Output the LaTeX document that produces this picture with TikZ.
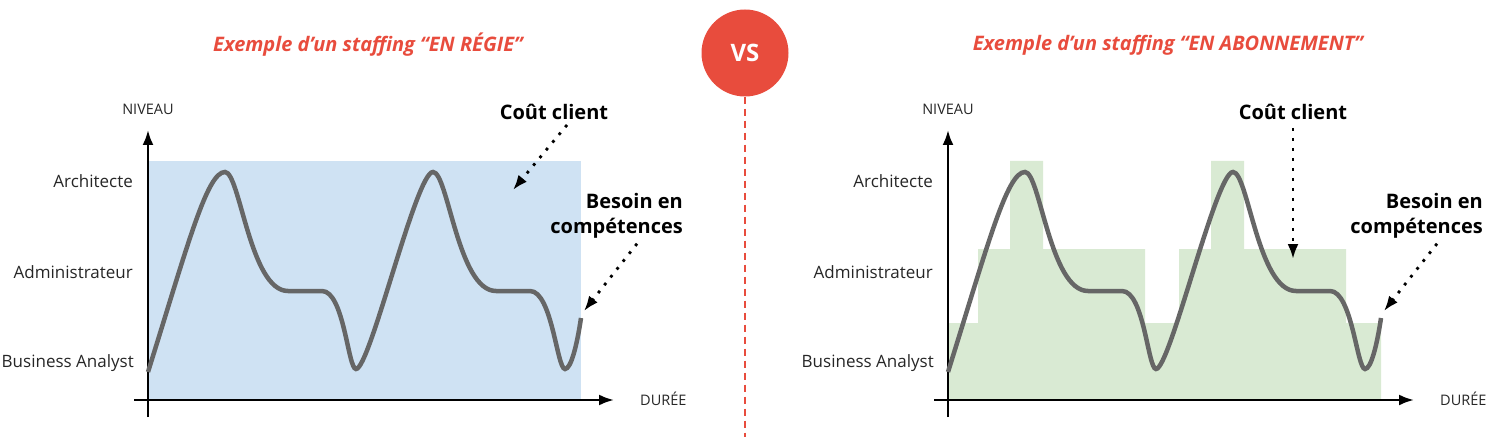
\documentclass[tikz,border=0pt]{standalone}
\usepackage{fontspec}
\setmainfont{Open Sans}
\usepackage{tikz}
\usetikzlibrary{positioning,arrows.meta}
\usepackage{xcolor}
\definecolor{rougevs}{HTML}{E84C3D}
\definecolor{bleuregie}{HTML}{CFE2F3}
\definecolor{vertabo}{HTML}{D9EAD3}
\definecolor{griscourbe}{HTML}{666666}

\begin{document}
\begin{tikzpicture}[x=1pt, y=-1pt, >={Latex[length=15pt,width=11pt]},
	axe/.style={black, line width=2.5pt},
	courbe/.style={griscourbe, line width=4.5pt},
	pointille/.style={black, line width=2.8pt, dash pattern=on 2.8pt off 7.2pt, ->},
	niveau/.style={inner sep=0pt, anchor=east, font=\fontsize{17}{20}\selectfont, text=black!85},
	axelabel/.style={inner sep=0pt, font=\fontsize{14.5}{17}\selectfont, text=black!85},
	legende/.style={inner sep=0pt, font=\fontsize{20}{25}\selectfont\bfseries, align=right},
	titre/.style={inner sep=0pt, font=\fontsize{20}{24}\selectfont\bfseries\itshape, text=rougevs}]
	\useasboundingbox (0,0) rectangle (1492,441);

	% separation
	\node [circle, fill=rougevs, minimum size=87pt, inner sep=0pt, text=white, font=\fontsize{24}{28}\selectfont\bfseries] (vs) at (745,53) {VS};
	\coordinate (finligne) at (745,437);
	\draw [rougevs, line width=1.5pt, dash pattern=on 7pt off 5pt] (vs.south) -- (finligne);

	% en regie
	\begin{scope}
		\node [titre] (titreG) at (368,45) {Exemple d’un staffing “EN RÉGIE”};
		\fill [bleuregie] (148,161) rectangle (581,400);
		\draw [axe] [->] (148,417)--(148,130);
		\draw [axe] [->] (134,400)--(614,400);
		\node [axelabel] (niveauG) at (148,109) {NIVEAU};
		\node [axelabel, anchor=west] (dureeG) at (640,399) {DURÉE};
		\node [niveau] (archiG) at (133,181) {Architecte};
		\node [niveau] (adminG) at (133,272) {Administrateur};
		\node [niveau] (baG) at (134,363) {Business Analyst};
		\draw [courbe] (148,372) .. controls (188,244) and (207,172) .. (225,172)
			.. controls (240,172) and (250,291) .. (288,291) -- (322,291)
			.. controls (344,291) and (348,369) .. (356,369)
			.. controls (370,369) and (416,172) .. (433,172)
			.. controls (448,172) and (458,291) .. (496,291) -- (530,291)
			.. controls (552,291) and (557,369) .. (565,369)
			.. controls (571,369) and (577,345) .. (581,318);
		\node [legende] (coutG) at (554,112) {Coût client};
		\coordinate (coutGfin) at (513,190);
		\draw [pointille] ([xshift=13pt,yshift=-5pt]coutG.south) -- (coutGfin);
		\node [legende, anchor=east] (besoinG) at (683,216) {Besoin en\\compétences};
		\coordinate (besoinGfin) at (584,311);
		\draw [pointille] ([xshift=-46pt,yshift=-5pt]besoinG.south east) -- (besoinGfin);
	\end{scope}

	% en abonnement
	\begin{scope}[xshift=800pt]
		\node [titre] (titreD) at (368,45) {Exemple d’un staffing “EN ABONNEMENT”};
		\fill [vertabo] (148,400) -- (148,323) -- (178,323) -- (178,249) -- (210,249) -- (210,161)
			-- (243,161) -- (243,249) -- (345,249) -- (345,323) -- (379,323) -- (379,249)
			-- (411,249) -- (411,161) -- (444,161) -- (444,249) -- (546,249) -- (546,323)
			-- (581,323) -- (581,400) -- cycle;
		\draw [axe] [->] (148,417)--(148,130);
		\draw [axe] [->] (134,400)--(614,400);
		\node [axelabel] (niveauD) at (148,109) {NIVEAU};
		\node [axelabel, anchor=west] (dureeD) at (640,399) {DURÉE};
		\node [niveau] (archiD) at (133,181) {Architecte};
		\node [niveau] (adminD) at (133,272) {Administrateur};
		\node [niveau] (baD) at (134,363) {Business Analyst};
		\draw [courbe] (148,372) .. controls (188,244) and (207,172) .. (225,172)
			.. controls (240,172) and (250,291) .. (288,291) -- (322,291)
			.. controls (344,291) and (348,369) .. (356,369)
			.. controls (370,369) and (416,172) .. (433,172)
			.. controls (448,172) and (458,291) .. (496,291) -- (530,291)
			.. controls (552,291) and (557,369) .. (565,369)
			.. controls (571,369) and (577,345) .. (581,318);
		\node [legende] (coutD) at (493,112) {Coût client};
		\coordinate (coutDfin) at (493,259);
		\draw [pointille] ([yshift=-8pt]coutD.south) -- (coutDfin);
		\node [legende, anchor=east] (besoinD) at (683,216) {Besoin en\\compétences};
		\coordinate (besoinDfin) at (584,311);
		\draw [pointille] ([xshift=-46pt,yshift=-5pt]besoinD.south east) -- (besoinDfin);
	\end{scope}
\end{tikzpicture}
\end{document}
